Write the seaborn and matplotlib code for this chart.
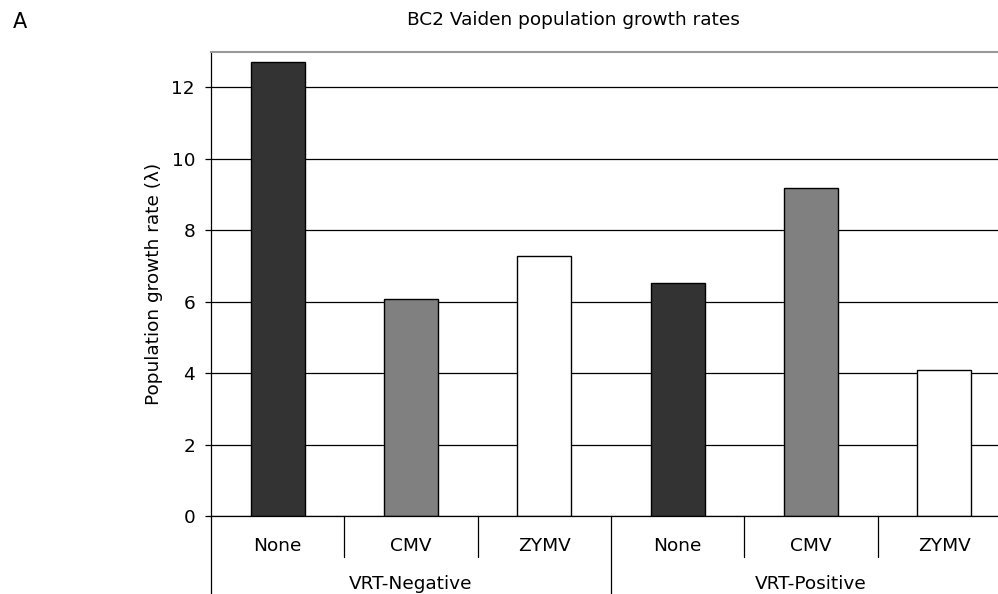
import matplotlib
matplotlib.use("Agg")
import matplotlib.pyplot as plt
import seaborn as sns
import pandas as pd
from matplotlib.lines import Line2D

groups = ["VRT-Negative", "VRT-Negative", "VRT-Negative",
          "VRT-Positive", "VRT-Positive", "VRT-Positive"]
treatments = ["None", "CMV", "ZYMV", "None", "CMV", "ZYMV"]
growth = [12.72, 6.08, 7.27, 6.53, 9.17, 4.10]
group_names = ["VRT-Negative", "VRT-Positive"]
yticks = [0, 2, 4, 6, 8, 10, 12]

df = pd.DataFrame({
    "key": [f"{g}|{t}" for g, t in zip(groups, treatments)],
    "group": groups,
    "treatment": treatments,
    "rate": growth,
})

sns.set_theme(style="white")
plt.rcParams["font.family"] = ["DejaVu Sans"]
plt.rcParams["text.color"] = "black"
plt.rcParams["axes.labelcolor"] = "black"
plt.rcParams["ytick.color"] = "black"
plt.rcParams["xtick.color"] = "black"

FS = 13.3
W, H = 998, 594
fig = plt.figure(figsize=(W / 100, H / 100), dpi=100)
ax_left, ax_right, ax_top, ax_bot = 211, 1011, 51.7, 516
ax = fig.add_axes([ax_left / W, (H - ax_bot) / H,
                   (ax_right - ax_left) / W, (ax_bot - ax_top) / H])

palette = {"None": "#333333", "CMV": "#808080", "ZYMV": "#ffffff"}
sns.barplot(data=df, x="key", y="rate", hue="treatment", palette=palette,
            dodge=False, width=0.407, edgecolor="black", linewidth=1.0,
            saturation=1, legend=False, ax=ax)

ax.set_ylim(0, 13)
ax.set_xlim(-0.5, len(df) - 0.5)
ax.set_yticks(yticks)
ax.set_yticklabels([str(v) for v in yticks], fontsize=FS)
ax.yaxis.grid(True, color="black", linewidth=0.9)
ax.set_axisbelow(True)
ax.tick_params(axis="y", left=True, length=4.5, width=0.9, color="black", pad=7)
ax.tick_params(axis="x", bottom=False, labelbottom=False)
ax.set_xlabel("")
ax.set_ylabel("Population growth rate (λ)", fontsize=FS, labelpad=6)

for s in ["left", "bottom"]:
    ax.spines[s].set_color("black")
    ax.spines[s].set_linewidth(0.9)
ax.spines["top"].set_color("#999999")
ax.spines["top"].set_linewidth(1.5)
ax.spines["right"].set_visible(False)

trans = ax.get_xaxis_transform()
axh = ax_bot - ax_top
def yfrac(py):
    return (ax_bot - py) / axh

# category labels and dividers
for i, t in enumerate(treatments):
    ax.text(i, yfrac(546), t, transform=trans, ha="center", va="center",
            fontsize=FS, clip_on=False)
for b in range(1, len(treatments)):
    if b % 3 == 0:
        continue
    ax.add_line(Line2D([b - 0.5, b - 0.5], [0, yfrac(557)], transform=trans,
                       color="black", linewidth=0.9, clip_on=False))
for b in [0, 3, 6]:
    ax.add_line(Line2D([b - 0.5, b - 0.5], [0, yfrac(600)], transform=trans,
                       color="black", linewidth=0.9, clip_on=False))
for gi, g in enumerate(group_names):
    ax.text(gi * 3 + 1, yfrac(584), g, transform=trans, ha="center",
            va="center", fontsize=FS, clip_on=False)

fig.text(573 / W, 1 - 20 / H, "BC2 Vaiden population growth rates",
         ha="center", va="center", fontsize=FS)
fig.text(20 / W, 1 - 22 / H, "A", ha="center", va="center", fontsize=15)

fig.savefig("out.png", dpi=100)
